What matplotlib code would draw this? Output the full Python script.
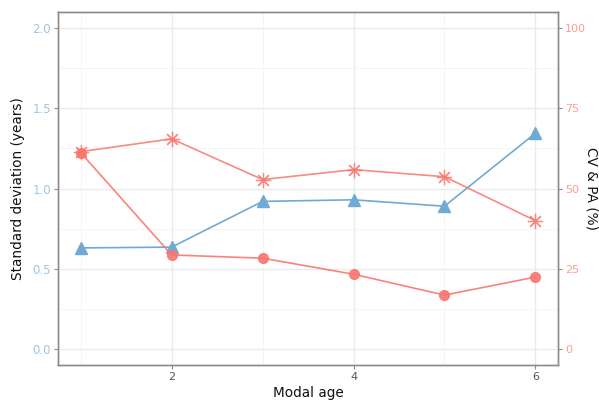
import matplotlib
matplotlib.use("Agg")
import matplotlib.pyplot as plt

modal_age = [1, 2, 3, 4, 5, 6]
sd_years = [0.63, 0.635, 0.92, 0.93, 0.89, 1.345]
cv_pct = [61.5, 65.5, 52.8, 55.9, 53.7, 40.0]
pa_pct = [61.2, 29.3, 28.3, 23.3, 16.8, 22.4]

red = "#F8766D"
blue = "#6FAAD4"
grid_major = "#ebebeb"
grid_minor = "#f4f4f4"
frame = "#8c8c8c"

fig = plt.figure(figsize=(5.99, 4.04), dpi=100)
ax = fig.add_axes([0.0968, 0.0965, 0.835, 0.8735])
ax2 = ax.twinx()

ax.set_xlim(0.75, 6.25)
ax.set_ylim(-0.1, 2.1)
ax2.set_ylim(-5, 105)

ax.set_xticks([2, 4, 6])
ax.set_xticks([1, 3, 5], minor=True)
ax.set_yticks([0.0, 0.5, 1.0, 1.5, 2.0])
ax.set_yticks([0.25, 0.75, 1.25, 1.75], minor=True)
ax.set_yticklabels(["0.0", "0.5", "1.0", "1.5", "2.0"])
ax2.set_yticks([0, 25, 50, 75, 100])

ax.grid(True, which="major", color=grid_major, lw=1.0, zorder=0)
ax.grid(True, which="minor", color=grid_minor, lw=0.6, zorder=0)
ax.set_axisbelow(True)

ax.plot(modal_age, sd_years, color=blue, lw=1.2, marker="^", ms=8,
        mfc=blue, mec=blue, zorder=3)
ax2.plot(modal_age, cv_pct, color=red, lw=1.2, marker=(8, 2, 0), ms=11,
         mew=0.9, mec=red, zorder=3, alpha=0.85)
ax2.plot(modal_age, pa_pct, color=red, lw=1.2, marker="o", ms=7,
         mfc=red, mec=red, zorder=3, alpha=0.9)

for a in (ax, ax2):
    for s in a.spines.values():
        s.set_color(frame)
        s.set_linewidth(1.0)

ax.tick_params(axis="x", which="major", colors=frame, labelcolor="#555555",
               labelsize=8, length=3, width=0.8, pad=2)
ax.tick_params(axis="x", which="minor", length=0)
ax.tick_params(axis="y", which="major", colors=frame, labelcolor="#9cc6e4",
               labelsize=8.5, length=3, width=0.8, pad=2)
ax.tick_params(axis="y", which="minor", length=0)
ax2.tick_params(axis="y", colors=frame, labelcolor="#fb9e95",
                labelsize=8, length=3, width=0.8, pad=2)

ax.set_xlabel("Modal age", fontsize=9.8, color="#111111", labelpad=3)
ax.set_ylabel("Standard deviation (years)", fontsize=9.8, color="#111111", labelpad=5)
ax2.set_ylabel("CV & PA (%)", fontsize=9.8, color="#111111", rotation=270,
               va="center", ha="center")
ax2.yaxis.set_label_coords(1.066, 0.5)

fig.savefig("out.png", dpi=100)
